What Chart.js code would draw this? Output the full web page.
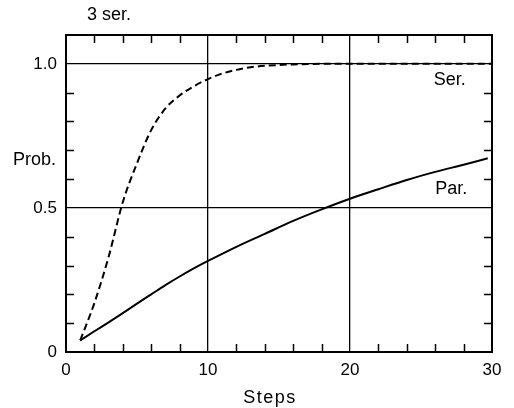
<!DOCTYPE html>
<html>
<head>
<meta charset="utf-8">
<script src="https://cdn.jsdelivr.net/npm/chart.js@4/dist/chart.umd.min.js"></script>
<style>
  html, body { margin: 0; padding: 0; background: #fff; }
  #wrap { width: 514px; height: 408px; }
</style>
</head>
<body>
<div id="wrap"><canvas id="c" width="514" height="408"></canvas></div>
<script>
// Serial configuration: probability vs. number of steps
const serSteps = [1, 2, 3, 4, 5, 6, 7, 8, 9, 10, 11, 12, 13, 14, 15, 16, 18, 20, 22, 24, 26, 28, 30];
const serProb  = [0.04, 0.17, 0.33, 0.52, 0.655, 0.77, 0.845, 0.89, 0.922, 0.947, 0.966, 0.979, 0.988, 0.993, 0.996, 0.998, 1.0, 1.0, 1.0, 1.0, 1.0, 1.0, 1.0];

// Parallel configuration
const parSteps = [1, 2, 3, 4, 5, 6, 7, 8, 9, 10, 12, 14, 16, 18, 20, 22, 24, 26, 28, 29.7];
const parProb  = [0.04, 0.072, 0.103, 0.135, 0.168, 0.2, 0.232, 0.262, 0.29, 0.316, 0.365, 0.41, 0.455, 0.495, 0.532, 0.565, 0.597, 0.625, 0.65, 0.672];

// Axis ticks
const xTickValues = [0, 10, 20, 30];
const xTickLabels = ['0', '10', '20', '30'];
const yTickValues = [0, 0.5, 1.0];
const yTickLabels = ['0', '0.5', '1.0'];

// Curve names and where they sit (in data units)
const seriesNames = ['Ser.', 'Par.'];
const seriesNameAt = [[25.9, 0.927], [26.0, 0.549]];

const FONT = '"Liberation Sans", Arial, sans-serif';

const near = (a, b) => Math.abs(a - b) < 1e-6;
const majorIndex = (list, v) => list.findIndex(t => near(t, v));

const toPoints = (xs, ys) => xs.map((x, i) => ({ x, y: ys[i] }));

// Frame, inward minor ticks and the text annotations
const framePlugin = {
  id: 'frame',
  afterDatasetsDraw(chart) {
    const { ctx, chartArea: a, scales: { x, y } } = chart;
    ctx.save();
    ctx.strokeStyle = '#000';
    ctx.lineWidth = 2;
    ctx.strokeRect(a.left, a.top, a.right - a.left, a.bottom - a.top);

    ctx.lineWidth = 1.5;
    ctx.beginPath();
    for (let v = 2; v < 30; v += 2) {
      if (majorIndex(xTickValues, v) >= 0) continue;
      const px = Math.round(x.getPixelForValue(v)) + 0.5;
      ctx.moveTo(px, a.bottom); ctx.lineTo(px, a.bottom - 8);
      ctx.moveTo(px, a.top);    ctx.lineTo(px, a.top + 8);
    }
    for (let i = 1; i <= 10; i++) {
      const v = i / 10;
      if (majorIndex(yTickValues, v) >= 0) continue;
      const py = Math.round(y.getPixelForValue(v)) + 0.5;
      ctx.moveTo(a.left, py);  ctx.lineTo(a.left + 8, py);
      ctx.moveTo(a.right, py); ctx.lineTo(a.right - 8, py);
    }
    ctx.stroke();

    ctx.fillStyle = '#000';
    ctx.font = '18px ' + FONT;
    ctx.textBaseline = 'alphabetic';
    ctx.textAlign = 'left';
    seriesNames.forEach((name, i) => {
      const [sx, sy] = seriesNameAt[i];
      ctx.fillText(name, x.getPixelForValue(sx), y.getPixelForValue(sy));
    });
    ctx.fillText('3 ser.', 87, 20);
    ctx.fillText('Prob.', 13, 165);
    ctx.textAlign = 'center';
    if ('letterSpacing' in ctx) ctx.letterSpacing = '1.5px';
    ctx.fillText('Steps', 270, 403);
    ctx.restore();
  }
};

new Chart(document.getElementById('c'), {
  type: 'line',
  data: {
    datasets: [
      {
        label: 'Ser.',
        data: toPoints(serSteps, serProb),
        borderColor: '#000',
        borderWidth: 2,
        borderDash: [7, 4],
        pointRadius: 0,
        fill: false,
        cubicInterpolationMode: 'monotone'
      },
      {
        label: 'Par.',
        data: toPoints(parSteps, parProb),
        borderColor: '#000',
        borderWidth: 2,
        pointRadius: 0,
        fill: false,
        cubicInterpolationMode: 'monotone'
      }
    ]
  },
  options: {
    responsive: false,
    animation: false,
    devicePixelRatio: 1,
    layout: { padding: { left: 0, top: 35, right: 22, bottom: 0 } },
    plugins: {
      legend: { display: false },
      tooltip: { enabled: false },
      title: { display: false }
    },
    scales: {
      x: {
        type: 'linear',
        min: 0,
        max: 30,
        afterFit(scale) { scale.height = 56; },
        border: { display: false },
        grid: {
          drawTicks: false,
          lineWidth: 1.3,
          color: ctx => {
            const v = ctx.tick ? ctx.tick.value : null;
            return (v !== null && v > 0 && v < 30 && majorIndex(xTickValues, v) >= 0) ? '#000' : 'rgba(0,0,0,0)';
          }
        },
        ticks: {
          stepSize: 2,
          autoSkip: false,
          maxRotation: 0,
          padding: 8,
          color: '#000',
          font: { family: FONT, size: 17 },
          callback: v => {
            const i = majorIndex(xTickValues, v);
            return i >= 0 ? xTickLabels[i] : '';
          }
        }
      },
      y: {
        type: 'linear',
        min: 0,
        max: 1.1,
        afterFit(scale) { scale.width = 66; },
        border: { display: false },
        grid: {
          drawTicks: false,
          lineWidth: 1.3,
          color: ctx => {
            const v = ctx.tick ? ctx.tick.value : null;
            return (v !== null && v > 0.01 && majorIndex(yTickValues, v) >= 0) ? '#000' : 'rgba(0,0,0,0)';
          }
        },
        ticks: {
          stepSize: 0.1,
          autoSkip: false,
          padding: 9,
          color: '#000',
          font: { family: FONT, size: 17 },
          callback: v => {
            const i = majorIndex(yTickValues, v);
            return i >= 0 ? yTickLabels[i] : '';
          }
        }
      }
    }
  },
  plugins: [framePlugin]
});
</script>
</body>
</html>
